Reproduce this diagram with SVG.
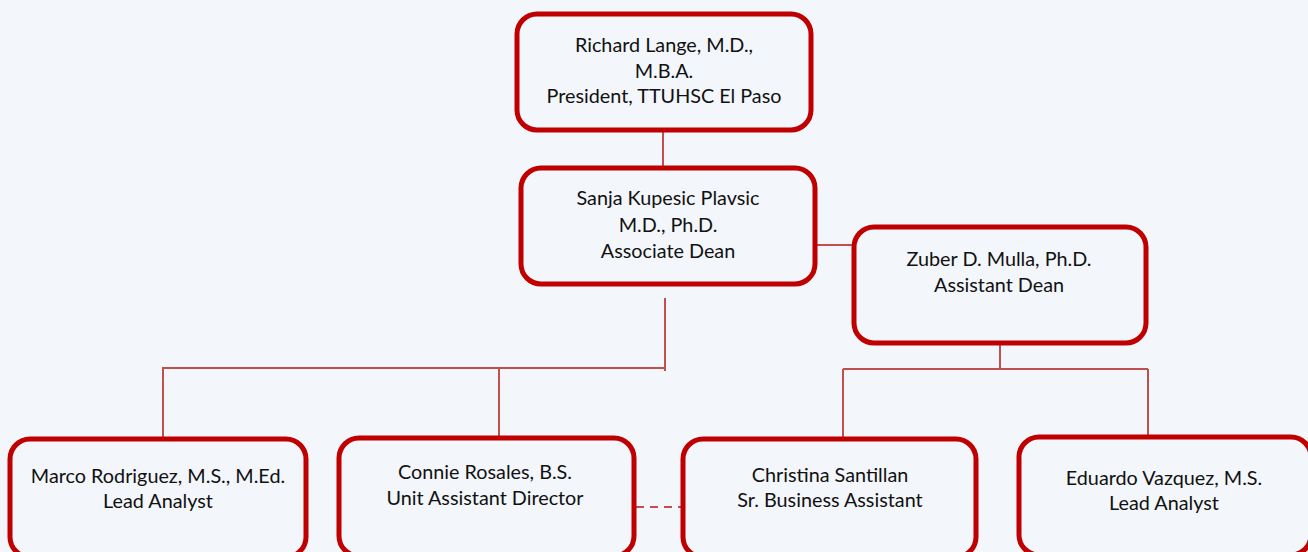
<svg xmlns="http://www.w3.org/2000/svg" width="1308" height="552" viewBox="0 0 1308 552">
<style>
.box{fill:#f3f6fa;stroke:#c00000;stroke-width:5}
.t{font-family:Lato,"Liberation Sans",sans-serif;font-size:19.8px;fill:#111;text-anchor:middle}
.c{fill:none;stroke:#c0504d;stroke-width:2}
.d{fill:none;stroke:#c0504d;stroke-width:2;stroke-dasharray:8 6}
</style>
<rect width="1308" height="552" fill="#f3f6fa"/>
<g id="connectors">
<path class="c" d="M663 131V168"/>
<path class="c" d="M817 245H853"/>
<path class="c" d="M665 298V371M665 368H163V444M499 368V437"/>
<path class="c" d="M1000 345V369M843 369H1148M843 369V439M1148 369V436"/>
<path class="d" d="M636 507H681"/>
</g>
<g id="n1"><rect class="box" x="517" y="14" width="294" height="116" rx="20"/>
<text class="t" x="664" y="52">Richard Lange, M.D.,</text><text class="t" x="664" y="78">M.B.A.</text><text class="t" x="664" y="103">President, TTUHSC El Paso</text></g>
<g id="n2"><rect class="box" x="521" y="168" width="294" height="116" rx="20"/>
<text class="t" x="668" y="205">Sanja Kupesic Plavsic</text><text class="t" x="668" y="232">M.D., Ph.D.</text><text class="t" x="668" y="258">Associate Dean</text></g>
<g id="n3"><rect class="box" x="854" y="227" width="292" height="116" rx="20"/>
<text class="t" x="999" y="266">Zuber D. Mulla, Ph.D.</text><text class="t" x="999" y="292">Assistant Dean</text></g>
<g id="n4"><rect class="box" x="10" y="439" width="296" height="118" rx="20"/>
<text class="t" x="158" y="483">Marco Rodriguez, M.S., M.Ed.</text><text class="t" x="158" y="508">Lead Analyst</text></g>
<g id="n5"><rect class="box" x="339" y="438" width="295" height="118" rx="20"/>
<text class="t" x="485" y="479">Connie Rosales, B.S.</text><text class="t" x="485" y="505">Unit Assistant Director</text></g>
<g id="n6"><rect class="box" x="683" y="439" width="293" height="118" rx="20"/>
<text class="t" x="830" y="482">Christina Santillan</text><text class="t" x="830" y="507">Sr. Business Assistant</text></g>
<g id="n7"><rect class="box" x="1019" y="437" width="292" height="118" rx="20"/>
<text class="t" x="1164" y="485">Eduardo Vazquez, M.S.</text><text class="t" x="1164" y="510">Lead Analyst</text></g>
</svg>
